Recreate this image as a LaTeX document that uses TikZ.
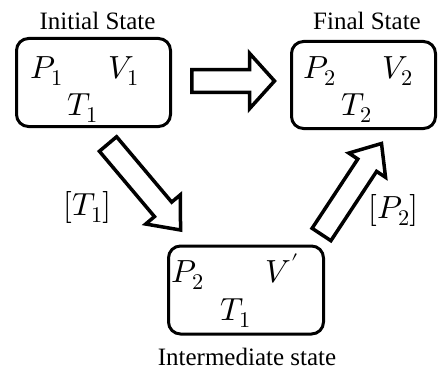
\documentclass[tikz,border=0pt]{standalone}
\usepackage{fontspec}
\usepackage{unicode-math}
\setmainfont{Liberation Serif}
\setmathfont{Latin Modern Math}
\usetikzlibrary{calc}

% hollow block arrow: tail, tip, half shaft, half head, head length
\newcommand{\hollowarrow}[5]{%
	\draw[blockline] ($(#1)!#3!90:(#2)$) -- ($(#2)!#5!(#1)!#3!90:(#2)$)
		-- ($(#2)!#5!(#1)!#4!90:(#2)$) -- (#2)
		-- ($(#2)!#5!(#1)!#4!-90:(#2)$) -- ($(#2)!#5!(#1)!#3!-90:(#2)$)
		-- ($(#1)!#3!-90:(#2)$) -- cycle;}

\begin{document}
\begin{tikzpicture}[x=1pt, y=-1pt, every node/.style={inner sep=0pt},
	statebox/.style={draw, line width=3pt, rounded corners=12pt},
	caption/.style={anchor=base, font=\fontsize{25}{28}\selectfont},
	var/.style={anchor=base, font=\fontsize{32}{36}\selectfont},
	blockline/.style={line width=3.5pt, line join=miter}]
	\useasboundingbox (0,0) rectangle (439,369);
	% the three states
	\node[statebox, minimum width=154pt, minimum height=88pt] (init) at (93.5,82.5) {};
	\node[statebox, minimum width=144pt, minimum height=87pt] (final) at (363.5,85) {};
	\node[statebox, minimum width=155pt, minimum height=88pt] (inter) at (246,290) {};
	\node[caption] (initcap) at (97.5,30) {Initial State};
	\node[caption] (finalcap) at (367,30) {Final State};
	\node[caption] (intercap) at (247,365) {Intermediate state};
	% variables
	\node[var] (p1) at (47,78) {$P_1$};
	\node[var] (v1) at (124,78) {$V_1$};
	\node[var] (t1) at (83,115) {$T_1$};
	\node[var] (p2) at (320,78) {$P_2$};
	\node[var] (v2) at (398,78) {$V_2$};
	\node[var] (t2) at (357,115) {$T_2$};
	\node[var] (pi) at (188,282) {$P_2$};
	\node[var] (vi) at (282,282) {$V'$};
	\node[var] (ti) at (236,320) {$T_1$};
	% block arrows
	\coordinate (htail) at (191.75,81);
	\coordinate (htip) at (274.5,81);
	\coordinate (dtail) at (108,144);
	\coordinate (dtip) at (180.5,230);
	\coordinate (utail) at (321.5,234.5);
	\coordinate (utip) at (381.5,143.5);
	\hollowarrow{htail}{htip}{11.25pt}{27.75pt}{25pt}
	\hollowarrow{dtail}{dtip}{11.25pt}{22.75pt}{27pt}
	\hollowarrow{utail}{utip}{11.25pt}{22pt}{26pt}
	\node[font=\fontsize{32}{36}\selectfont] (lblT) at (87.5,207) {$[T_1]$};
	\node[font=\fontsize{32}{36}\selectfont] (lblP) at (393.5,210) {$[P_2]$};
\end{tikzpicture}
\end{document}
